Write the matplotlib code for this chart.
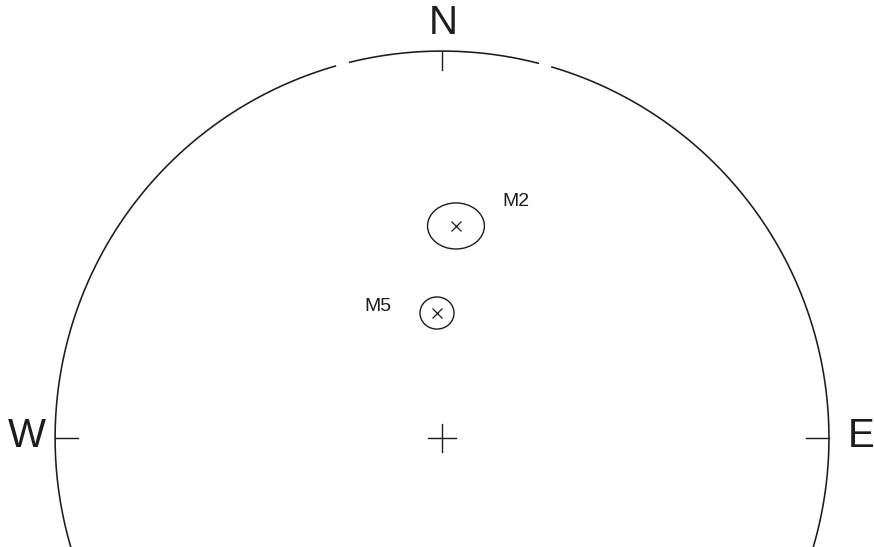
import numpy as np
import matplotlib.pyplot as plt
from matplotlib.patches import Ellipse

plt.rcParams['font.family'] = ['Liberation Sans', 'DejaVu Sans']

# poles on the net (unit radius), with their confidence ellipses
names = ["M2", "M5"]
pole_x = [0.036, -0.013]
pole_y = [0.548, 0.323]
ell_w = [0.147, 0.088]
ell_h = [0.119, 0.083]
label_x = [0.190, -0.165]
label_y = [0.612, 0.340]

# compass labels
dirs = ["N", "W", "E"]
dir_x = [0.003, -1.072, 1.083]
dir_y = [1.072, 0.005, 0.005]

ink = "#1c1c1c"

fig = plt.figure(figsize=(8.74, 5.47), dpi=100)
ax = fig.add_axes([0, 0, 1, 1])
ax.set_xlim(-1.142, 1.116)
ax.set_ylim(-0.2817, 1.132)
ax.set_aspect('equal')
ax.axis('off')

# primitive circle, with two short breaks either side of north
gaps = [(-16.0, -13.8), (14.4, 16.5)]
start = -180.0
segs = []
for a, b in gaps:
    segs.append((start, a))
    start = b
segs.append((start, 180.0))
for a, b in segs:
    t = np.radians(np.linspace(a, b, 400))
    ax.plot(np.sin(t), np.cos(t), color=ink, lw=1.15)

# ticks at N, W, E and centre cross
ax.plot([0, 0], [1, 0.951], color=ink, lw=1.0)
ax.plot([-1, -0.94], [0, 0], color=ink, lw=1.0)
ax.plot([1, 0.94], [0, 0], color=ink, lw=1.0)
ax.plot([-0.036, 0.036], [0, 0], color=ink, lw=1.0)
ax.plot([0, 0], [-0.036, 0.036], color=ink, lw=1.0)

for i in range(len(names)):
    ax.add_patch(Ellipse((pole_x[i], pole_y[i]), ell_w[i], ell_h[i],
                         fill=False, ec=ink, lw=1.0))
    ax.plot(pole_x[i], pole_y[i], marker='x', ms=7, mew=0.9, color=ink)
    ax.text(label_x[i], label_y[i], names[i], fontsize=14, color=ink,
            ha='center', va='center')

for i in range(len(dirs)):
    ax.text(dir_x[i], dir_y[i], dirs[i], fontsize=29, color=ink,
            ha='center', va='center')

fig.savefig("out.png", dpi=100)
